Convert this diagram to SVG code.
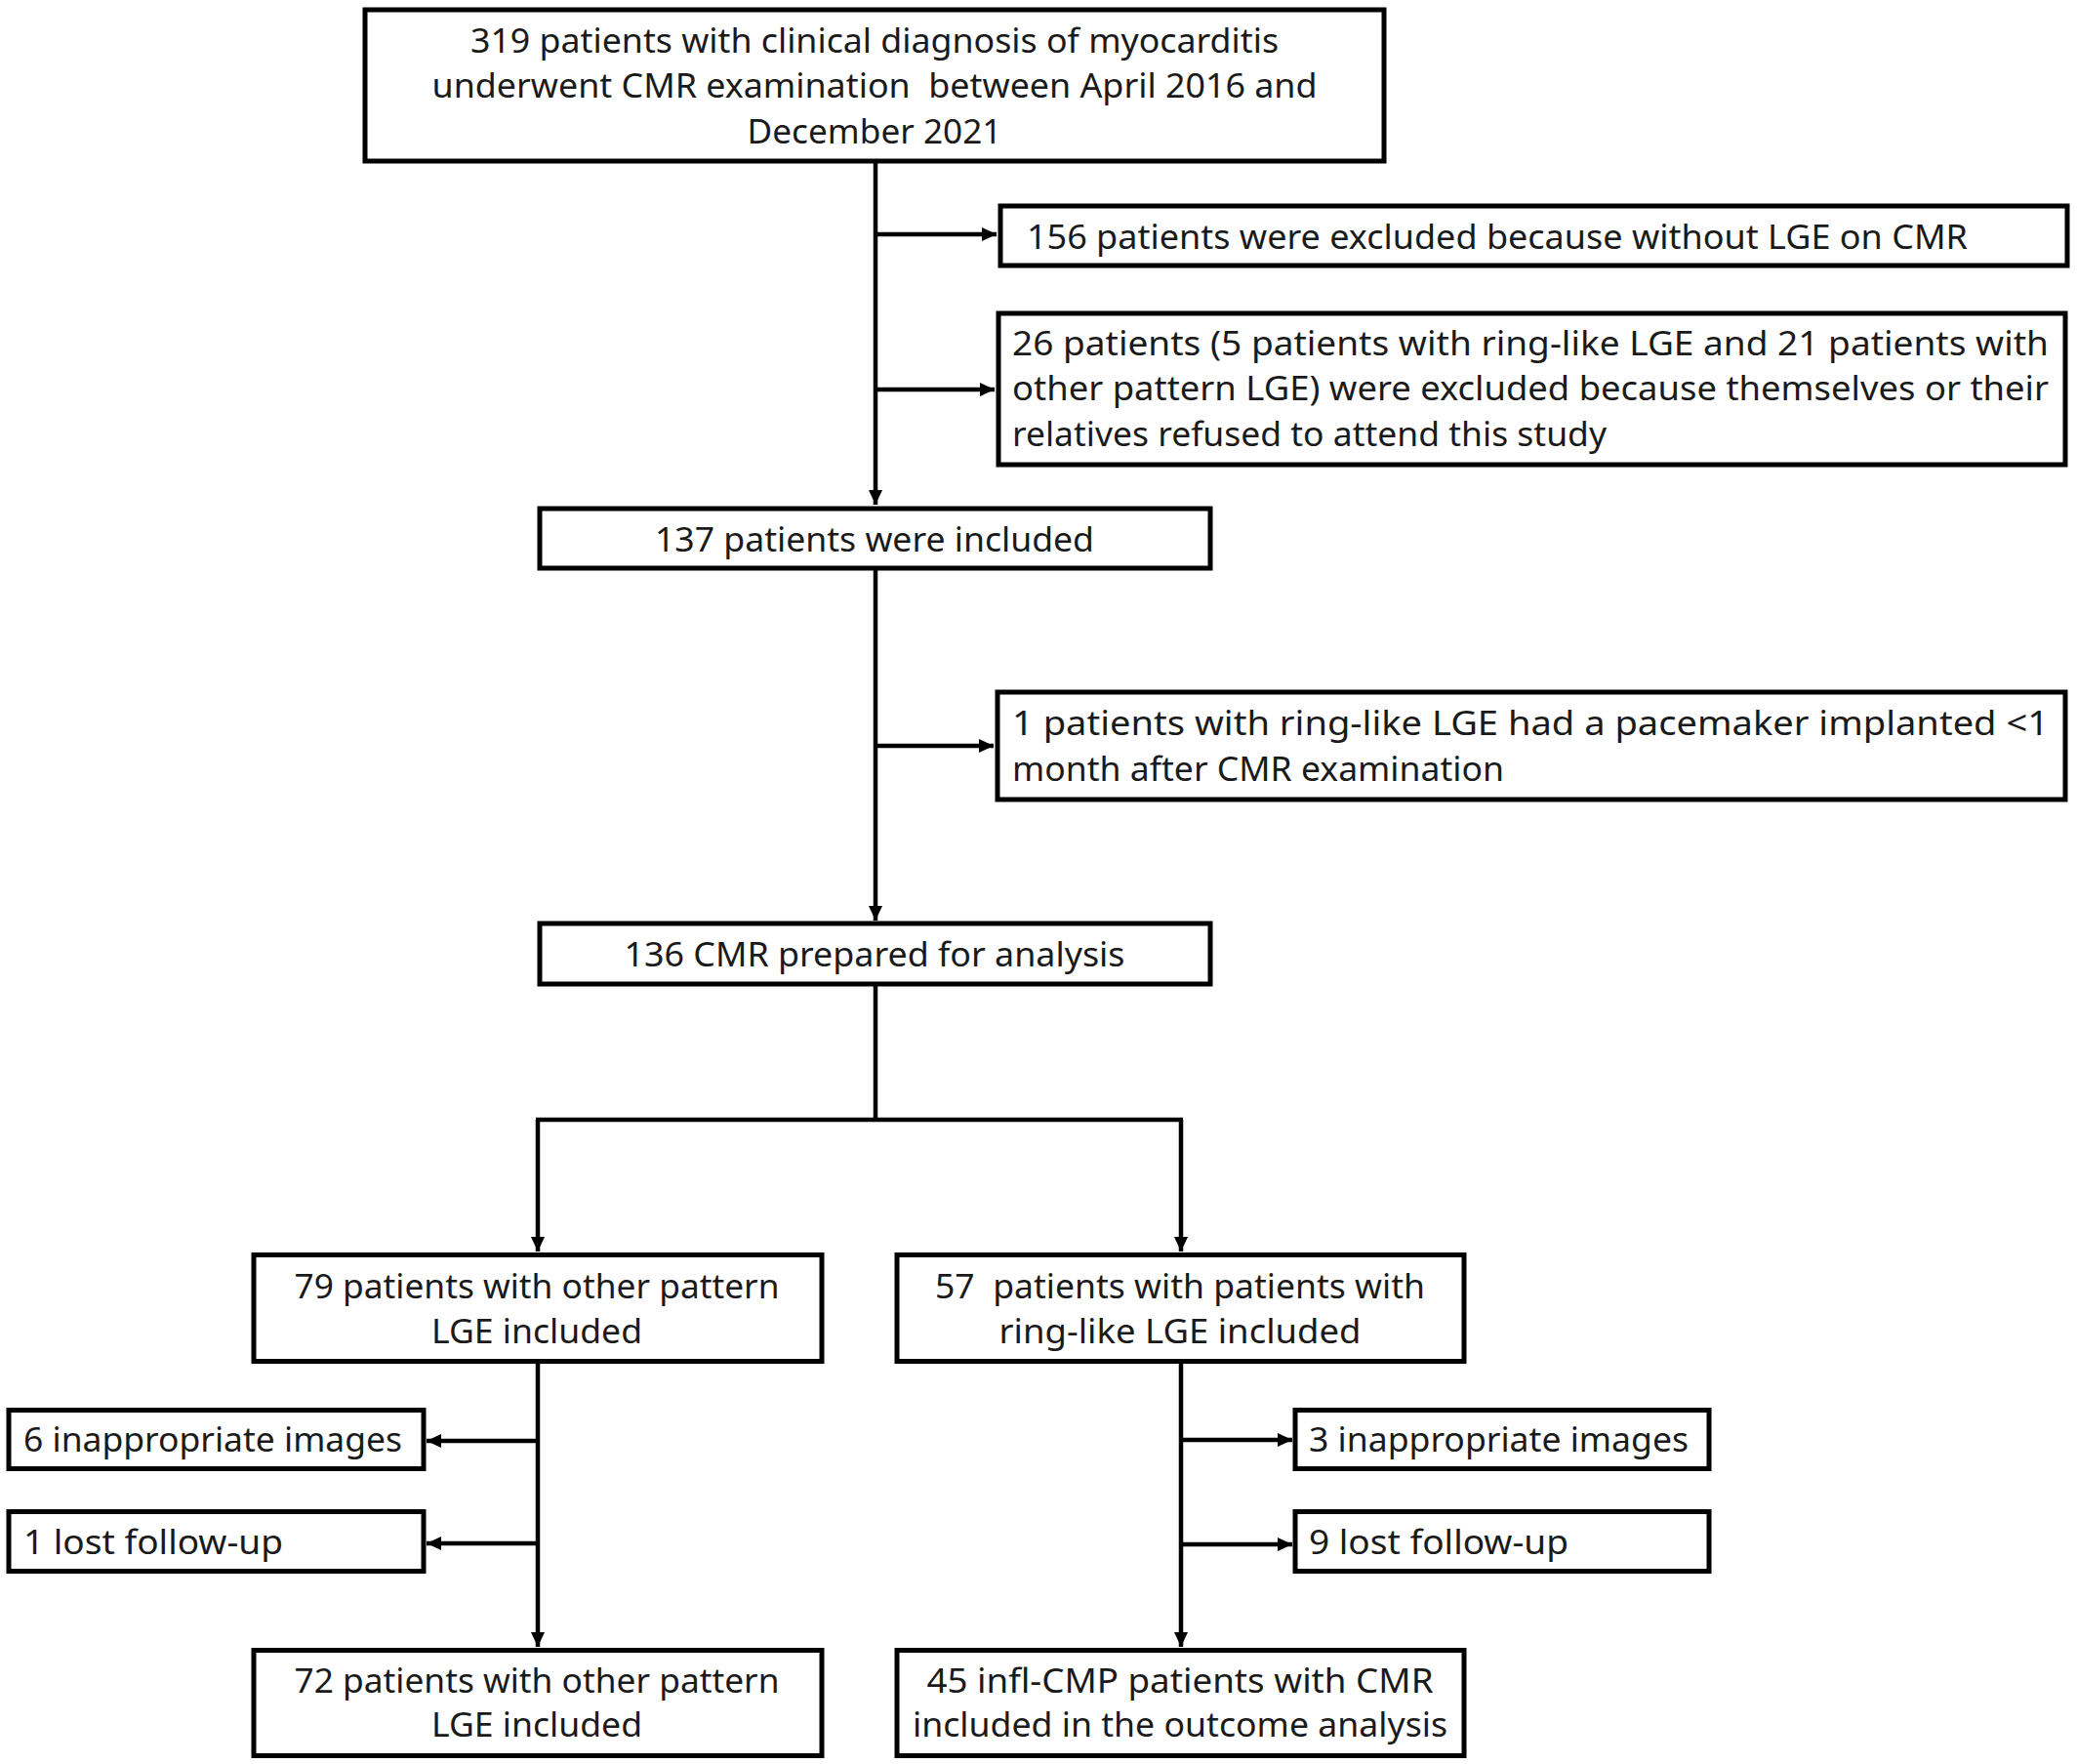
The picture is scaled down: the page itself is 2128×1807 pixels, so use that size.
<svg xmlns="http://www.w3.org/2000/svg" width="2128" height="1807" viewBox="0 0 2128 1807">
<style>
.box{fill:#fff;stroke:#000;stroke-width:5}
.t{font-family:"Noto Sans","Liberation Sans",Arial,sans-serif;font-size:34px;fill:#1a1a1a;white-space:pre}
.c{text-anchor:middle}
.ln{fill:none;stroke:#000;stroke-width:4.5}
</style>
<defs>
<marker id="ah" markerUnits="userSpaceOnUse" markerWidth="15" markerHeight="14" refX="15" refY="7" orient="auto">
<path d="M0,0 L15,7 L0,14 z" fill="#000"/>
</marker>
</defs>
<rect width="2128" height="1807" fill="#fff"/>
<g id="connectors">
<path class="ln" d="M897,167 V517" marker-end="url(#ah)"/>
<path class="ln" d="M897,240 H1021" marker-end="url(#ah)"/>
<path class="ln" d="M897,399 H1019" marker-end="url(#ah)"/>
<path class="ln" d="M897,583 V943" marker-end="url(#ah)"/>
<path class="ln" d="M897,764 H1018" marker-end="url(#ah)"/>
<path class="ln" d="M897,1009 V1147"/>
<path class="ln" d="M549,1147 H1212"/>
<path class="ln" d="M551,1147 V1282" marker-end="url(#ah)"/>
<path class="ln" d="M1210,1147 V1282" marker-end="url(#ah)"/>
<path class="ln" d="M551,1397 V1687" marker-end="url(#ah)"/>
<path class="ln" d="M551,1476 H437" marker-end="url(#ah)"/>
<path class="ln" d="M551,1581 H437" marker-end="url(#ah)"/>
<path class="ln" d="M1210,1397 V1687" marker-end="url(#ah)"/>
<path class="ln" d="M1210,1475 H1324" marker-end="url(#ah)"/>
<path class="ln" d="M1210,1582 H1324" marker-end="url(#ah)"/>
</g>
<g id="n-start">
<rect class="box" x="374" y="10" width="1044" height="155"/>
<text class="t c" x="896" y="54" textLength="828" lengthAdjust="spacingAndGlyphs">319 patients with clinical diagnosis of myocarditis</text>
<text class="t c" x="896" y="100" textLength="907" lengthAdjust="spacingAndGlyphs">underwent CMR examination  between April 2016 and</text>
<text class="t c" x="896" y="147" textLength="261" lengthAdjust="spacingAndGlyphs">December 2021</text>
</g>
<g id="n-ex156">
<rect class="box" x="1025" y="211" width="1093" height="61"/>
<text class="t" x="1052" y="255" textLength="964" lengthAdjust="spacingAndGlyphs">156 patients were excluded because without LGE on CMR</text>
</g>
<g id="n-ex26">
<rect class="box" x="1023" y="321" width="1093" height="155"/>
<text class="t" x="1037" y="364" textLength="1062" lengthAdjust="spacingAndGlyphs">26 patients (5 patients with ring-like LGE and 21 patients with</text>
<text class="t" x="1037" y="410" textLength="1062" lengthAdjust="spacingAndGlyphs">other pattern LGE) were excluded because themselves or their</text>
<text class="t" x="1037" y="457" textLength="609" lengthAdjust="spacingAndGlyphs">relatives refused to attend this study</text>
</g>
<g id="n-137">
<rect class="box" x="553" y="521" width="687" height="61"/>
<text class="t c" x="896" y="565" textLength="450" lengthAdjust="spacingAndGlyphs">137 patients were included</text>
</g>
<g id="n-pacemaker">
<rect class="box" x="1022" y="709" width="1094" height="110"/>
<text class="t" x="1037" y="753" textLength="1062" lengthAdjust="spacingAndGlyphs">1 patients with ring-like LGE had a pacemaker implanted &lt;1</text>
<text class="t" x="1037" y="800" textLength="504" lengthAdjust="spacingAndGlyphs">month after CMR examination</text>
</g>
<g id="n-136">
<rect class="box" x="553" y="946" width="687" height="62"/>
<text class="t c" x="896" y="990" textLength="513" lengthAdjust="spacingAndGlyphs">136 CMR prepared for analysis</text>
</g>
<g id="n-79">
<rect class="box" x="260" y="1285.5" width="582" height="109"/>
<text class="t c" x="550" y="1330" textLength="497" lengthAdjust="spacingAndGlyphs">79 patients with other pattern</text>
<text class="t c" x="550" y="1376" textLength="216" lengthAdjust="spacingAndGlyphs">LGE included</text>
</g>
<g id="n-57">
<rect class="box" x="919" y="1285.5" width="581" height="109"/>
<text class="t c" x="1209" y="1330" textLength="502" lengthAdjust="spacingAndGlyphs">57  patients with patients with</text>
<text class="t c" x="1209" y="1376" textLength="371" lengthAdjust="spacingAndGlyphs">ring-like LGE included</text>
</g>
<g id="n-6img">
<rect class="box" x="9" y="1444.5" width="425" height="60"/>
<text class="t" x="24" y="1487" textLength="388" lengthAdjust="spacingAndGlyphs">6 inappropriate images</text>
</g>
<g id="n-1lost">
<rect class="box" x="9" y="1548.5" width="425" height="61"/>
<text class="t" x="24" y="1592" textLength="266" lengthAdjust="spacingAndGlyphs">1 lost follow-up</text>
</g>
<g id="n-3img">
<rect class="box" x="1327" y="1444.5" width="424" height="60"/>
<text class="t" x="1341" y="1487" textLength="389" lengthAdjust="spacingAndGlyphs">3 inappropriate images</text>
</g>
<g id="n-9lost">
<rect class="box" x="1327" y="1548.5" width="424" height="61"/>
<text class="t" x="1341" y="1592" textLength="266" lengthAdjust="spacingAndGlyphs">9 lost follow-up</text>
</g>
<g id="n-72">
<rect class="box" x="260" y="1690.5" width="582" height="108"/>
<text class="t c" x="550" y="1734" textLength="497" lengthAdjust="spacingAndGlyphs">72 patients with other pattern</text>
<text class="t c" x="550" y="1779" textLength="216" lengthAdjust="spacingAndGlyphs">LGE included</text>
</g>
<g id="n-45">
<rect class="box" x="919" y="1690.5" width="581" height="108"/>
<text class="t c" x="1209" y="1734" textLength="519" lengthAdjust="spacingAndGlyphs">45 infl-CMP patients with CMR</text>
<text class="t c" x="1209" y="1779" textLength="548" lengthAdjust="spacingAndGlyphs">included in the outcome analysis</text>
</g>
</svg>
